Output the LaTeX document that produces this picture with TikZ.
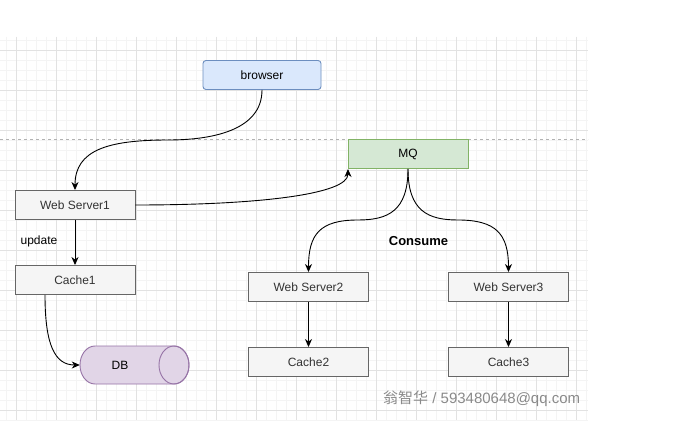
\documentclass[tikz,border=0pt]{standalone}
\usepackage{fontspec}
\setmainfont{Liberation Sans}
\newfontfamily\cjkfont{Noto Sans CJK SC}
\usetikzlibrary{arrows.meta}
\definecolor{gmajor}{HTML}{E2E2E2}
\definecolor{gminor}{HTML}{F4F4F4}
\definecolor{bluefill}{HTML}{DAE8FC}
\definecolor{bluestroke}{HTML}{6C8EBF}
\definecolor{greenfill}{HTML}{D5E8D4}
\definecolor{greenstroke}{HTML}{82B366}
\definecolor{grayfill}{HTML}{F5F5F5}
\definecolor{graystroke}{HTML}{666666}
\definecolor{grayfont}{HTML}{333333}
\definecolor{purplefill}{HTML}{E1D5E7}
\definecolor{purplestroke}{HTML}{9673A6}
\definecolor{wmark}{HTML}{8A8A8A}
\begin{document}
\begin{tikzpicture}[x=1pt,y=-1pt,
  every node/.style={font=\fontsize{12}{14}\selectfont},
  box/.style={draw, line width=0.9pt, minimum width=120pt, minimum height=29pt, inner sep=0pt},
  graybox/.style={box, fill=grayfill, draw=graystroke, text=grayfont},
  edge/.style={draw=black, line width=0.9pt, -{Stealth[length=8pt,width=7pt,inset=2.5pt]}},
  lbl/.style={inner sep=0pt}
]
\useasboundingbox (0,0) rectangle (688,438);
\fill[white] (0,0) rectangle (688,438);
% grid
\begin{scope}
\clip (0,37) rectangle (588,420);
\foreach \x in {6,16,...,586} \draw[gminor, line width=0.6pt] (\x,37) -- (\x,420);
\foreach \y in {40,50,...,420} \draw[gminor, line width=0.6pt] (0,\y) -- (588,\y);
\foreach \x in {16,56,...,576} \draw[gmajor, line width=0.8pt] (\x,37) -- (\x,420);
\foreach \y in {50,90,...,410} \draw[gmajor, line width=0.8pt] (0,\y) -- (588,\y);
\end{scope}
\draw[gray!60, dashed, dash pattern=on 3pt off 3pt, line width=0.7pt] (0,139) -- (588,139);

% nodes
\node[box, rounded corners=3pt, fill=bluefill, draw=bluestroke, minimum width=118pt] (browser) at (262,75) {browser};
\node[box, fill=greenfill, draw=greenstroke] (mq) at (408,154) {MQ};
\node[graybox] (ws1) at (75,205) {Web Server1};
\node[graybox] (cache1) at (75,280) {Cache1};
\node[graybox] (ws2) at (308.5,287) {Web Server2};
\node[graybox] (cache2) at (308.5,362) {Cache2};
\node[graybox] (ws3) at (508.5,287) {Web Server3};
\node[graybox] (cache3) at (508.5,362) {Cache3};

% DB cylinder
\filldraw[fill=purplefill, draw=purplestroke, line width=0.9pt]
  (95,346) arc[start angle=90, end angle=270, x radius=15pt, y radius=19pt]
  -- (174,384) arc[start angle=-90, end angle=90, x radius=15pt, y radius=19pt] -- cycle;
\draw[purplestroke, line width=0.9pt] (174,365) ellipse[x radius=15pt, y radius=19pt];
\node[minimum width=109pt, minimum height=38pt, inner sep=0pt] (db) at (134.5,365) {};
\node[lbl] (dbtext) at (120,365) {DB};

% labels
\node[lbl] (update) at (39,241) {update};
\node[lbl, font=\fontsize{13}{15}\selectfont\bfseries] (consume) at (418.5,241) {Consume};
\node[lbl, anchor=west, text=wmark, font=\fontsize{15}{17}\selectfont] (wm) at (383,399) {{\cjkfont 翁智华} / 593480648@qq.com};

% connector helpers
\coordinate (bend1) at (168,140);
\coordinate (mqin) at (348,169);
\coordinate (bendL) at (358,220);
\coordinate (bendR) at (458,220);

% connectors
\draw[edge] (browser.south) .. controls +(0,40) and +(45,0) .. (bend1)
  .. controls +(-60,0) and +(0,-40) .. (ws1.north);
\draw[edge] (ws1.east) .. controls +(125,0) and +(0,25) .. (mqin);
\draw[edge] (mq.south) .. controls +(0,42) and +(30,0) .. (bendL)
  .. controls +(-38,0) and +(0,-38) .. (ws2.north);
\draw[edge] (mq.south) .. controls +(0,42) and +(-30,0) .. (bendR)
  .. controls +(38,0) and +(0,-38) .. (ws3.north);
\draw[edge] (ws1.south) -- (cache1.north);
\draw[edge] (ws2.south) -- (cache2.north);
\draw[edge] (ws3.south) -- (cache3.north);
\draw[edge] ([xshift=-30pt]cache1.south) .. controls +(0,50) and +(-25,0) .. (db.west);
\end{tikzpicture}
\end{document}
